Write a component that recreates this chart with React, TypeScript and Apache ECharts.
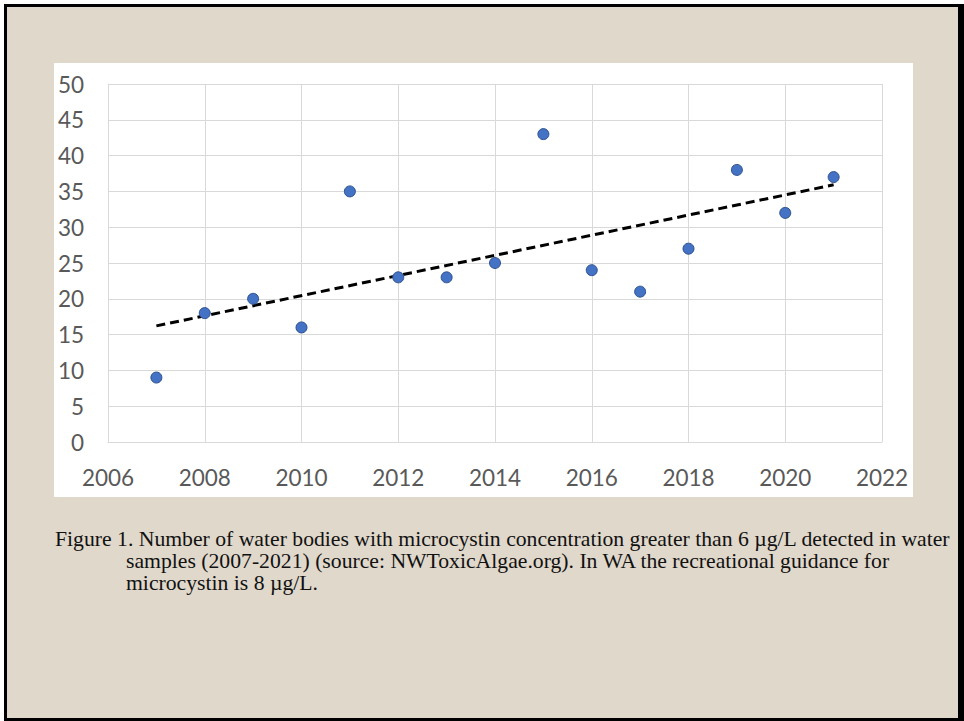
import React, { useEffect, useRef } from "react";
import * as echarts from "echarts";

const years = [2007, 2008, 2009, 2010, 2011, 2012, 2013, 2014, 2015, 2016, 2017, 2018, 2019, 2020, 2021];
const counts = [9, 18, 20, 16, 35, 23, 23, 25, 43, 24, 21, 27, 38, 32, 37];
const xTicks = { min: 2006, max: 2022, interval: 2 };
const yTicks = { min: 0, max: 50, interval: 5 };
const captionLines = [
  "Figure 1. Number of water bodies with microcystin concentration greater than 6 \u00b5g/L detected in water",
  "samples (2007-2021) (source: NWToxicAlgae.org). In WA the recreational guidance for",
  "microcystin is 8 \u00b5g/L.",
];

function trend(xs: number[], ys: number[]) {
  const n = xs.length;
  const mx = xs.reduce((a, b) => a + b, 0) / n;
  const my = ys.reduce((a, b) => a + b, 0) / n;
  let sxy = 0, sxx = 0;
  for (let i = 0; i < n; i++) {
    sxy += (xs[i] - mx) * (ys[i] - my);
    sxx += (xs[i] - mx) * (xs[i] - mx);
  }
  const b = sxy / sxx;
  const a = my - b * mx;
  const x0 = xs[0], x1 = xs[n - 1];
  return [[x0, a + b * x0], [x1, a + b * x1]];
}

export default function App() {
  const ref = useRef<HTMLDivElement>(null);
  useEffect(() => {
    if (!ref.current) return;
    const chart = echarts.init(ref.current, null, { renderer: "svg" });
    const axisFont = { fontFamily: "Lato", fontSize: 22.5, color: "#595959" };
    const capStyle = { fontFamily: "Liberation Serif", fontSize: 21.7, lineHeight: 22, fill: "#111111" };
    chart.setOption({
      animation: false,
      backgroundColor: "#ffffff",
      graphic: [
        { type: "rect", z: -10, shape: { x: 4, y: 4, width: 960, height: 717 }, style: { fill: "#000000" } },
        { type: "rect", z: -9, shape: { x: 7, y: 7, width: 951, height: 711 }, style: { fill: "#E0D8CB" } },
        { type: "rect", z: -8, shape: { x: 54, y: 63, width: 859, height: 434 }, style: { fill: "#ffffff" } },
        { type: "text", left: 55, top: 528, style: { text: captionLines[0], ...capStyle } },
        { type: "text", left: 126, top: 550, style: { text: captionLines[1], ...capStyle } },
        { type: "text", left: 126, top: 572, style: { text: captionLines[2], ...capStyle } },
      ],
      grid: { left: 108, top: 84, right: 82, bottom: 279, containLabel: false },
      xAxis: {
        type: "value",
        min: xTicks.min, max: xTicks.max, interval: xTicks.interval,
        axisLine: { show: true, lineStyle: { color: "#D9D9D9", width: 1 } },
        axisTick: { show: false },
        splitLine: { show: true, lineStyle: { color: "#D9D9D9", width: 1 } },
        axisLabel: { ...axisFont, margin: 24, formatter: (v: number) => String(v) },
      },
      yAxis: {
        type: "value",
        min: yTicks.min, max: yTicks.max, interval: yTicks.interval,
        axisLine: { show: true, lineStyle: { color: "#D9D9D9", width: 1 } },
        axisTick: { show: false },
        splitLine: { show: true, lineStyle: { color: "#D9D9D9", width: 1 } },
        axisLabel: { ...axisFont, margin: 24 },
      },
      series: [
        {
          type: "line",
          data: trend(years, counts),
          symbol: "none",
          lineStyle: { color: "#000000", width: 3, type: [9, 5] },
          z: 2,
        },
        {
          type: "scatter",
          data: years.map((y, i) => [y, counts[i]]),
          symbol: "circle",
          symbolSize: 11,
          itemStyle: { color: "#4472C4", borderColor: "#2F528F", borderWidth: 1, opacity: 1 },
          z: 3,
        },
      ],
    });
    return () => chart.dispose();
  }, []);
  return (
    <div
      ref={ref}
      style={{ position: "absolute", left: 0, top: 0, width: 964, height: 721 }}
    />
  );
}
